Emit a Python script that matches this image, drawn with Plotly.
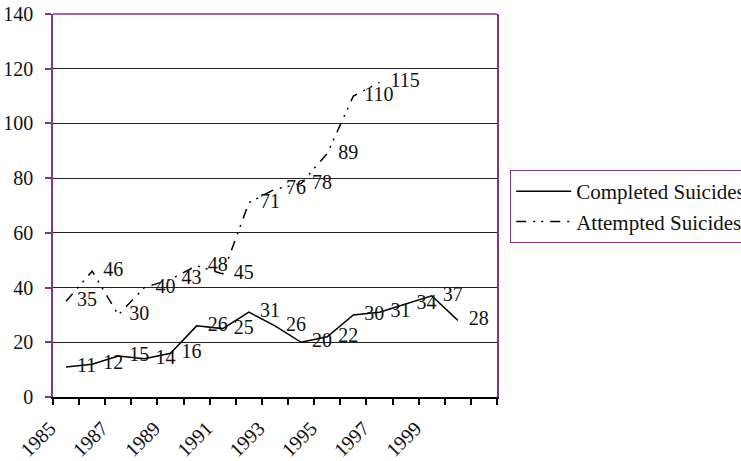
import plotly.graph_objects as go

# ---- data ----
categories = list(range(1985, 2002))          # 17 category slots on the x axis
completed_years = list(range(1985, 2001))
completed = [11, 12, 15, 14, 16, 26, 25, 31, 26, 20, 22, 30, 31, 34, 37, 28]
attempted_years = list(range(1985, 1998))
attempted = [35, 46, 30, 40, 43, 48, 45, 71, 76, 78, 89, 110, 115]
x_tick_labels = ["1985", "1987", "1989", "1991", "1993", "1995", "1997", "1999"]
y_ticks = [0, 20, 40, 60, 80, 100, 120, 140]
series_names = ["Completed Suicides", "Attempted Suicides"]

PURPLE = "#84348a"
FAMILY = "Liberation Serif"
FONT = dict(family=FAMILY, size=20, color="#111111")
LEGEND_FONT = dict(family=FAMILY, size=21, color="#111111")
DASH = "10px,7px,2px,6px,2px,7px"

W, H = 741, 461
PL, PT, PR, PB = 53, 14, 497, 397.5          # plot area in window pixels
PW, PH = PR - PL, PB - PT

fig = go.Figure()
fig.add_trace(go.Scatter(
    x=completed_years, y=completed, name=series_names[0],
    mode="lines+markers+text", text=[str(v) for v in completed],
    textposition="middle right", textfont=FONT,
    line=dict(color="black", width=1.5),
    marker=dict(size=16, color="rgba(0,0,0,0)", line=dict(width=0)),
))
fig.add_trace(go.Scatter(
    x=attempted_years, y=attempted, name=series_names[1],
    mode="lines+markers+text", text=[str(v) for v in attempted],
    textposition="middle right", textfont=FONT,
    line=dict(color="black", width=1.5, dash=DASH),
    marker=dict(size=16, color="rgba(0,0,0,0)", line=dict(width=0)),
))

fig.update_layout(
    width=W, height=H,
    margin=dict(l=PL, r=W - PR, t=PT, b=H - PB, autoexpand=False),
    paper_bgcolor="white", plot_bgcolor="white",
    font=FONT,
    showlegend=True,
    legend=dict(
        x=(510 - PL) / PW, xanchor="left",
        y=(PB - 170) / PH, yanchor="top",
        bordercolor=PURPLE, borderwidth=1.2, bgcolor="white",
        font=LEGEND_FONT, itemwidth=55, tracegroupgap=0,
    ),
    xaxis=dict(
        range=[categories[0] - 0.5, categories[-1] + 0.5],
        tickmode="array", tickvals=[int(t) for t in x_tick_labels], ticktext=x_tick_labels,
        tickangle=-45, ticks="", showgrid=False, zeroline=False,
        showline=True, linecolor="black", linewidth=1.5,
        ticklabelstandoff=10, ticklabelshift=-16, ticklabeloverflow="allow",
        minor=dict(tickmode="linear", tick0=categories[0] - 0.5, dtick=1,
                   ticks="outside", ticklen=6, tickcolor="black", tickwidth=1.5,
                   showgrid=False),
        tickfont=FONT,
    ),
    yaxis=dict(
        range=[0, 140], tickmode="array", tickvals=y_ticks,
        ticks="outside", ticklen=6, tickcolor=PURPLE, tickwidth=1.5,
        showline=True, linecolor=PURPLE, linewidth=1.5, mirror=True,
        showgrid=True, gridcolor="#222222", gridwidth=1, zeroline=False,
        ticklabelstandoff=8, ticklabeloverflow="allow", tickfont=FONT,
    ),
    shapes=[dict(type="line", xref="paper", yref="paper", x0=0, x1=1, y0=1, y1=1,
                 line=dict(color=PURPLE, width=1.5), layer="above")],
)

fig.write_html(
    "out.html",
    config={"displayModeBar": False},
    post_script="document.body.style.margin='0';document.body.style.overflow='hidden';",
)
